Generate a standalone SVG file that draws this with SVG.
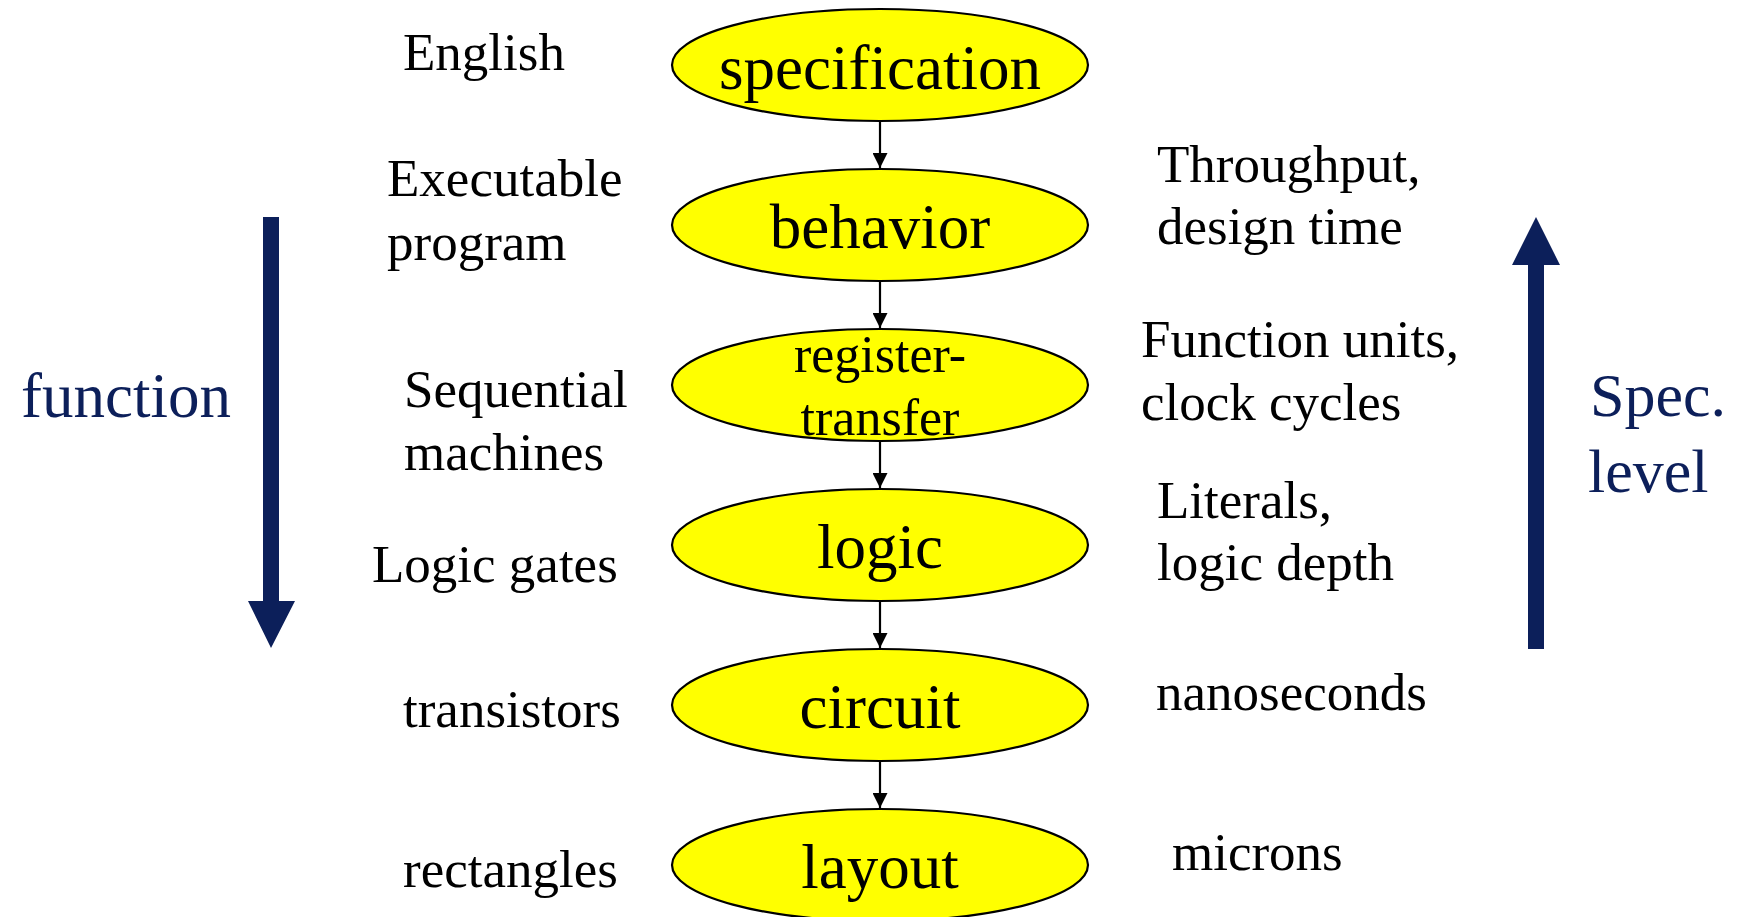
<svg xmlns="http://www.w3.org/2000/svg" width="1738" height="917" viewBox="0 0 1738 917">
<style>
text{font-family:"Liberation Serif","Times New Roman",serif;fill:#000}
.node ellipse{fill:#ffff00;stroke:#000;stroke-width:2.2}
.nt{font-size:63px;text-anchor:middle}
.rt{font-size:52px;text-anchor:middle}
.lbl{font-size:53px}
.navy{fill:#0c1f5a;font-size:63px}
.conn line{stroke:#000;stroke-width:2.2}
</style>
<defs>
<marker id="ah" markerWidth="15" markerHeight="15" refX="15" refY="7.5" orient="auto" markerUnits="userSpaceOnUse">
<path d="M0,0 L15,7.5 L0,15 Z" fill="#000"/>
</marker>
</defs>
<rect width="1738" height="917" fill="#fff"/>

<g id="connectors" class="conn">
<line x1="880" y1="121" x2="880" y2="168" marker-end="url(#ah)"/>
<line x1="880" y1="281" x2="880" y2="328" marker-end="url(#ah)"/>
<line x1="880" y1="441" x2="880" y2="488" marker-end="url(#ah)"/>
<line x1="880" y1="601" x2="880" y2="648" marker-end="url(#ah)"/>
<line x1="880" y1="761" x2="880" y2="808" marker-end="url(#ah)"/>
</g>

<g id="node-specification" class="node"><ellipse cx="880" cy="65" rx="208" ry="56"/><text class="nt" x="880" y="89">specification</text></g>
<g id="node-behavior" class="node"><ellipse cx="880" cy="225" rx="208" ry="56"/><text class="nt" x="880" y="248">behavior</text></g>
<g id="node-register-transfer" class="node"><ellipse cx="880" cy="385" rx="208" ry="56"/><text class="rt" x="880" y="372">register-</text><text class="rt" x="880" y="435">transfer</text></g>
<g id="node-logic" class="node"><ellipse cx="880" cy="545" rx="208" ry="56"/><text class="nt" x="880" y="568">logic</text></g>
<g id="node-circuit" class="node"><ellipse cx="880" cy="705" rx="208" ry="56"/><text class="nt" x="880" y="728">circuit</text></g>
<g id="node-layout" class="node"><ellipse cx="880" cy="865" rx="208" ry="56"/><text class="nt" x="880" y="888">layout</text></g>

<g id="left-labels" class="lbl">
<text class="lbl" x="403" y="70">English</text>
<text class="lbl" x="387" y="196">Executable</text>
<text class="lbl" x="387" y="260">program</text>
<text class="lbl" x="404" y="407">Sequential</text>
<text class="lbl" x="404" y="470">machines</text>
<text class="lbl" x="372" y="582">Logic gates</text>
<text class="lbl" x="403" y="727">transistors</text>
<text class="lbl" x="403" y="887">rectangles</text>
</g>

<g id="right-labels">
<text class="lbl" x="1157" y="182">Throughput,</text>
<text class="lbl" x="1157" y="244">design time</text>
<text class="lbl" x="1141" y="357">Function units,</text>
<text class="lbl" x="1141" y="420">clock cycles</text>
<text class="lbl" x="1157" y="518">Literals,</text>
<text class="lbl" x="1157" y="580">logic depth</text>
<text class="lbl" x="1156" y="710">nanoseconds</text>
<text class="lbl" x="1172" y="870">microns</text>
</g>

<g id="function-arrow">
<path d="M263,217 H279 V601 H295 L271,648 L248,601 H263 Z" fill="#0c1f5a"/>
<text class="navy" x="21" y="417">function</text>
</g>

<g id="spec-level-arrow">
<path d="M1528,649 V265 H1512 L1536,217 L1560,265 H1544 V649 Z" fill="#0c1f5a"/>
<text class="navy" x="1590" y="416" style="font-size:62px">Spec.</text>
<text class="navy" x="1588" y="492" style="font-size:62px">level</text>
</g>
</svg>
